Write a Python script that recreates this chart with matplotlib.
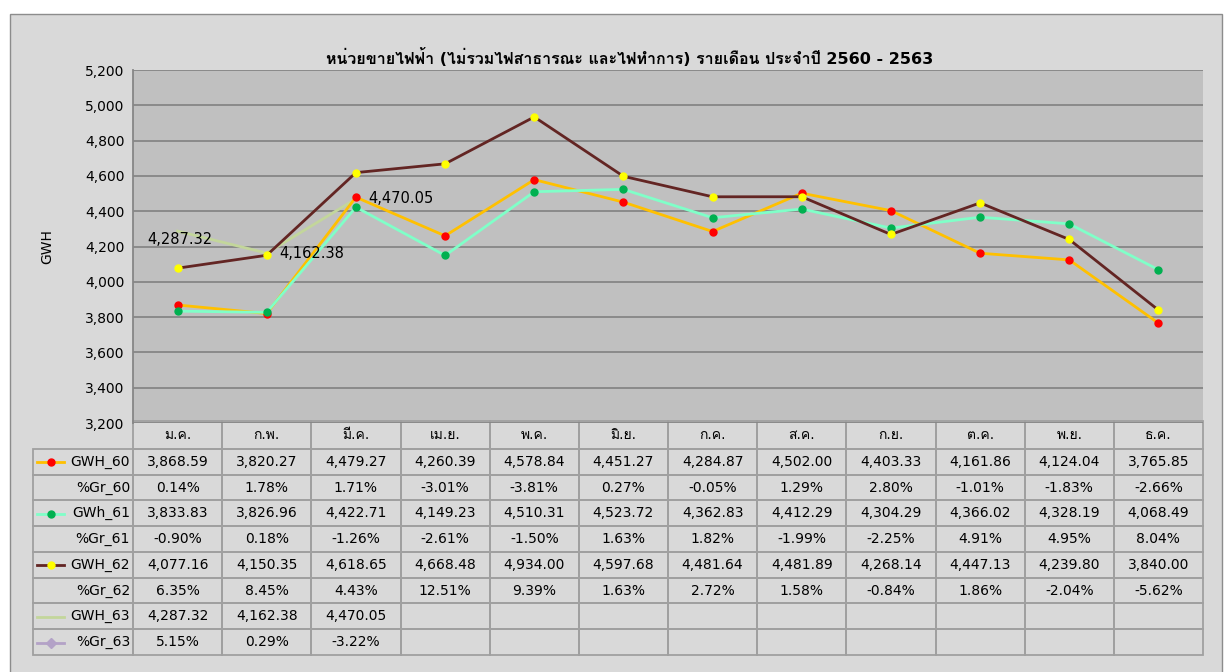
import matplotlib
matplotlib.use('Agg')
import matplotlib.pyplot as plt
from matplotlib import font_manager
from matplotlib.ft2font import FT2Font
from matplotlib.lines import Line2D
from matplotlib.patches import Rectangle
import numpy as np

months = ['ม.ค.', 'ก.พ.', 'มี.ค.', 'เม.ย.', 'พ.ค.', 'มิ.ย.',
          'ก.ค.', 'ส.ค.', 'ก.ย.', 'ต.ค.', 'พ.ย.', 'ธ.ค.']

gwh_60 = [3868.59, 3820.27, 4479.27, 4260.39, 4578.84, 4451.27,
          4284.87, 4502.00, 4403.33, 4161.86, 4124.04, 3765.85]
gr_60 = [0.14, 1.78, 1.71, -3.01, -3.81, 0.27,
         -0.05, 1.29, 2.80, -1.01, -1.83, -2.66]
gwh_61 = [3833.83, 3826.96, 4422.71, 4149.23, 4510.31, 4523.72,
          4362.83, 4412.29, 4304.29, 4366.02, 4328.19, 4068.49]
gr_61 = [-0.90, 0.18, -1.26, -2.61, -1.50, 1.63,
         1.82, -1.99, -2.25, 4.91, 4.95, 8.04]
gwh_62 = [4077.16, 4150.35, 4618.65, 4668.48, 4934.00, 4597.68,
          4481.64, 4481.89, 4268.14, 4447.13, 4239.80, 3840.00]
gr_62 = [6.35, 8.45, 4.43, 12.51, 9.39, 1.63,
         2.72, 1.58, -0.84, 1.86, -2.04, -5.62]
gwh_63 = [4287.32, 4162.38, 4470.05]
gr_63 = [5.15, 0.29, -3.22]

row_labels = ['GWH_60', '%Gr_60', 'GWh_61', '%Gr_61',
              'GWH_62', '%Gr_62', 'GWH_63', '%Gr_63']

title = 'หน่วยขายไฟฟ้า (ไม่รวมไฟสาธารณะ และไฟทำการ) รายเดือน ประจำปี 2560 - 2563'


def find_thai_font():
    """First installed family that has Thai glyphs"""
    for f in font_manager.fontManager.ttflist:
        try:
            cmap = FT2Font(f.fname).get_charmap()
        except Exception:
            continue
        if 0x0E2B in cmap and 0x0E44 in cmap:
            return f.name
    return None


thai = find_thai_font()
fams = ['DejaVu Sans'] if thai is None else ['DejaVu Sans', thai]
plt.rcParams['font.family'] = fams

W, H = 1225, 672
fig = plt.figure(figsize=(W / 100, H / 100), dpi=100)
fig.patch.set_facecolor('white')

# chart area
fig.patches.append(Rectangle((10 / W, 1 - 680 / H), 1212 / W, 666 / H,
                             transform=fig.transFigure, facecolor='#d9d9d9',
                             edgecolor='#8c8c8c', linewidth=1, zorder=-5))

left, right, top, bottom = 133, 1203, 70, 423
ax = fig.add_axes([left / W, 1 - bottom / H, (right - left) / W, (bottom - top) / H])
ax.set_facecolor('#c0c0c0')

x = np.arange(len(months))
ax.plot(x, gwh_60, color='#ffc000', lw=2.0, marker='o', ms=5,
        mfc='#ff0000', mec='#ff0000', zorder=3)
ax.plot(x, gwh_61, color='#80ffc8', lw=2.0, marker='o', ms=5,
        mfc='#00b050', mec='#00b050', zorder=3)
ax.plot(x, gwh_62, color='#632523', lw=2.0, marker='o', ms=5,
        mfc='#ffff00', mec='#ffff00', zorder=4)
ax.plot(x[:len(gwh_63)], gwh_63, color='#c3d69b', lw=2.0, zorder=2)

# data labels for GWH_63
ax.annotate(f'{gwh_63[0]:,.2f}', (x[0], gwh_63[0]), xytext=(2, -1),
            textcoords='offset points', ha='center', va='top', fontsize=10.5)
for i in (1, 2):
    ax.annotate(f'{gwh_63[i]:,.2f}', (x[i], gwh_63[i]), xytext=(9, 0),
                textcoords='offset points', ha='left', va='center', fontsize=10.5)

ax.set_xlim(-0.5, len(months) - 0.5)
ax.set_ylim(3200, 5200)
ax.set_yticks(np.arange(3200, 5201, 200))
ax.set_yticklabels([f'{v:,}' for v in range(3200, 5201, 200)], fontsize=10)
ax.set_xticks([])
ax.grid(axis='y', color='#868686', lw=1.3)
ax.set_axisbelow(True)
ax.tick_params(axis='y', length=0, pad=6)
for s in ['top', 'right', 'bottom']:
    ax.spines[s].set_visible(False)
ax.spines['left'].set_color('#868686')
ax.spines['left'].set_linewidth(1.3)
ax.set_ylabel('GWH', fontsize=10, labelpad=22)

fig.text(630 / W, 1 - 58 / H, title, ha='center', va='center',
         fontsize=11.5, fontweight='bold')

# data table
def pct(v):
    return [f'{a:.2f}%' for a in v]


def num(v):
    return [f'{a:,.2f}' for a in v]


def pad(v):
    return v + [''] * (len(months) - len(v))


body = [num(gwh_60), pct(gr_60), num(gwh_61), pct(gr_61),
        num(gwh_62), pct(gr_62), pad(num(gwh_63)), pad(pct(gr_63))]
cells = [[''] + months] + [[lab] + row for lab, row in zip(row_labels, body)]

tl, tr, ttop, tbot = 33, 1203, 421, 655
col_w = [100] + [(tr - 133) / 12] * 12
tb = ax.table(cellText=cells, colWidths=[c / sum(col_w) for c in col_w],
              cellLoc='center',
              bbox=[(tl - left) / (right - left), (bottom - tbot) / (bottom - top),
                    (tr - tl) / (right - left), (tbot - ttop) / (bottom - top)])
tb.auto_set_font_size(False)
tb.set_fontsize(10)
for (r, c), cell in tb.get_celld().items():
    cell.set_facecolor('none')
    cell.set_edgecolor('#a0a0a0')
    cell.set_linewidth(1.3)
    if r == 0:
        cell.set_height(28)
    else:
        cell.set_height(25.8)
    if c == 0:
        cell.get_text().set_ha('right')
        cell.PAD = 0.03
    if r == 0 and c == 0:
        cell.visible_edges = ''

# legend keys in the row label column
keys = [('#ffc000', 'o', '#ff0000'), None, ('#80ffc8', 'o', '#00b050'), None,
        ('#632523', 'o', '#ffff00'), None, ('#c3d69b', None, None),
        ('#b3a2c7', 'D', '#b3a2c7')]
y0 = 449
for i, k in enumerate(keys):
    if k is None:
        continue
    yc = 1 - (y0 + 25.8 * i + 12.9) / H
    fig.add_artist(Line2D([37 / W, 64 / W], [yc, yc], color=k[0], lw=2.0))
    if k[1]:
        fig.add_artist(Line2D([50.5 / W], [yc], marker=k[1], ms=5,
                              mfc=k[2], mec=k[2], lw=0))

plt.savefig('out.png', dpi=100)
